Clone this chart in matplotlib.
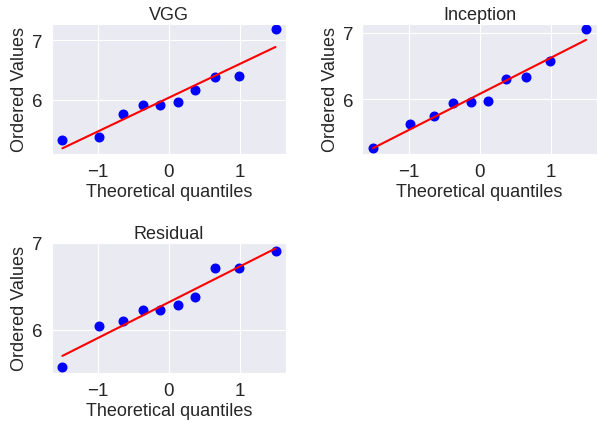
import matplotlib
matplotlib.use('Agg')
import matplotlib.pyplot as plt
import seaborn as sns
import numpy as np

# theoretical normal quantiles for n=10
quantiles = [-1.4993, -0.9853, -0.6471, -0.3712, -0.1210, 0.1210, 0.3712, 0.6471, 0.9853, 1.4993]

# ordered values
vgg = [5.32, 5.38, 5.76, 5.91, 5.91, 5.97, 6.16, 6.38, 6.40, 7.18]
inception = [5.26, 5.63, 5.75, 5.94, 5.96, 5.98, 6.31, 6.33, 6.57, 7.05]
residual = [5.57, 6.05, 6.10, 6.23, 6.23, 6.29, 6.38, 6.71, 6.71, 6.91]

titles = ['VGG', 'Inception', 'Residual']
series = [vgg, inception, residual]

sns.set_style('darkgrid')
plt.rcParams['font.family'] = ['Liberation Sans', 'DejaVu Sans']

fig, axes = plt.subplots(2, 2, figsize=(5.98, 4.27), dpi=100)
plt.subplots_adjust(left=0.0865, right=0.998, top=0.9426, bottom=0.1234,
                    wspace=0.325, hspace=0.675)

for ax, title, vals in zip(axes.flat, titles, series):
    x = np.array(quantiles)
    y = np.array(vals)
    slope, intercept = np.polyfit(x, y, 1)
    ax.plot(x, y, 'o', color='blue', markersize=6.2)
    ax.plot(x, slope * x + intercept, '-', color='red', lw=1.5)
    ax.set_title(title, fontsize=13, color='.15', pad=3.5)
    ax.set_xlabel('Theoretical quantiles', fontsize=13, color='.15', labelpad=2)
    ax.set_ylabel('Ordered Values', fontsize=13, color='.15', labelpad=3)
    ax.tick_params(labelsize=13.5, colors='.15', pad=3)
    ax.set_yticks([6, 7])

axes[1, 1].axis('off')

fig.savefig('out.png', dpi=100)
